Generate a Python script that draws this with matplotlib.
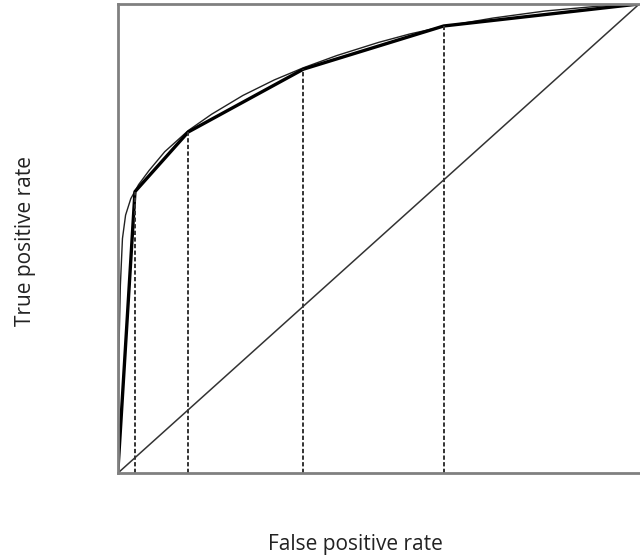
import matplotlib.pyplot as plt

# ROC operating points (false positive rate, true positive rate)
fpr = [0.0, 0.033, 0.135, 0.356, 0.625, 1.0]
tpr = [0.0, 0.600, 0.727, 0.861, 0.953, 1.0]

# smooth fitted curve
curve_fpr = [0.0, 0.002, 0.005, 0.009, 0.015, 0.025, 0.04, 0.06, 0.09, 0.135,
             0.18, 0.24, 0.30, 0.356, 0.42, 0.50, 0.56, 0.625, 0.72, 0.82, 0.92, 1.0]
curve_tpr = [0.0, 0.25, 0.40, 0.50, 0.55, 0.585, 0.615, 0.645, 0.685, 0.730,
             0.765, 0.805, 0.838, 0.864, 0.890, 0.918, 0.936, 0.952, 0.970, 0.985, 0.995, 1.0]

plt.rcParams['font.family'] = ['Open Sans', 'DejaVu Sans']

fig = plt.figure(figsize=(6.4, 5.6), dpi=100)
ax = fig.add_axes([0.184, 0.155, 0.815, 0.838])

# chance diagonal
ax.plot([0, 1], [0, 1], color='#333333', lw=1.1)
# fitted curve
ax.plot(curve_fpr, curve_tpr, color='#222222', lw=1.0)
# empirical ROC
ax.plot(fpr, tpr, color='black', lw=2.4, solid_joinstyle='round')
# drop lines
for x, y in zip(fpr[1:-1], tpr[1:-1]):
    ax.plot([x, x], [0, y], color='#333333', lw=1.4, ls=(0, (2.2, 1.2)))

ax.set_xlim(0, 1)
ax.set_ylim(0, 1)
ax.set_xticks([])
ax.set_yticks([])
for side in ['left', 'bottom', 'top']:
    ax.spines[side].set_color('#808080')
    ax.spines[side].set_linewidth(2)
ax.spines['right'].set_visible(False)

fig.text(0.556, 0.027, 'False positive rate', ha='center', va='center',
         fontsize=15, color='#222222')
fig.text(0.040, 0.570, 'True positive rate', ha='center', va='center',
         rotation=90, fontsize=15, color='#222222')

fig.savefig('out.png', dpi=100)
